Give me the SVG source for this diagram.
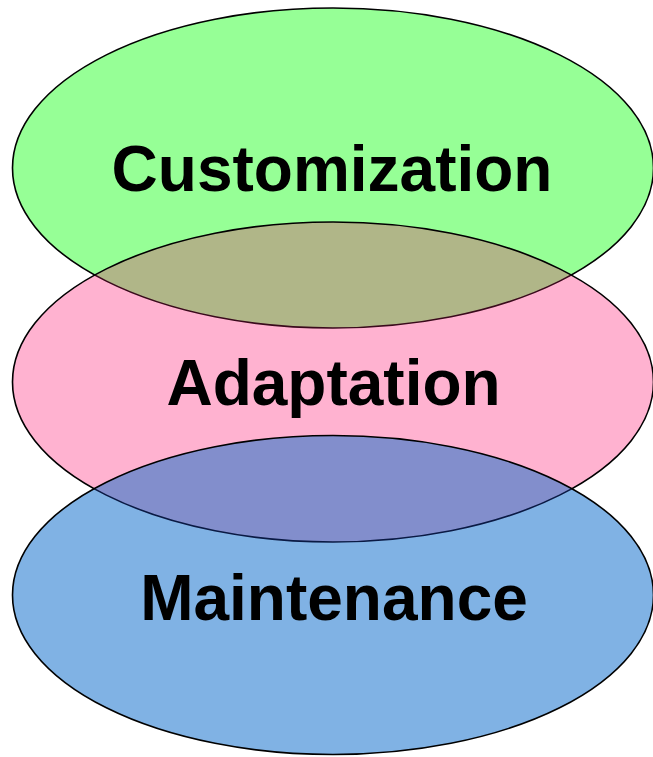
<svg xmlns="http://www.w3.org/2000/svg" xmlns:xlink="http://www.w3.org/1999/xlink" width="653" height="757" viewBox="0 0 653 757">
<style>
.lbl{font-family:"Liberation Sans",Arial,sans-serif;font-weight:bold;font-size:64px;fill:#000;text-anchor:middle}
.edge{fill:none;stroke:#000;stroke-width:1.6}
</style>
<defs>
<ellipse id="eTop" cx="333" cy="168" rx="320.5" ry="160"/>
<ellipse id="eMid" cx="333" cy="382" rx="320.5" ry="160"/>
<ellipse id="eBot" cx="333" cy="595" rx="320.5" ry="159.5"/>
<clipPath id="cTop"><use xlink:href="#eTop"/></clipPath>
<clipPath id="cMid"><use xlink:href="#eMid"/></clipPath>
<clipPath id="cBot"><use xlink:href="#eBot"/></clipPath>
</defs>
<rect width="653" height="757" fill="#fff"/>
<g id="customization">
<use xlink:href="#eTop" fill="#96FF96"/>
<use xlink:href="#eTop" class="edge"/>
<text class="lbl" x="332" y="191">Customization</text>
</g>
<g id="adaptation">
<use xlink:href="#eMid" fill="#FFB2D0"/>
<use xlink:href="#eMid" fill="#B0B688" clip-path="url(#cTop)"/>
<use xlink:href="#eTop" class="edge" style="stroke:#3a0a1c" clip-path="url(#cMid)"/>
<use xlink:href="#eMid" class="edge"/>
<text class="lbl" x="333.5" y="405">Adaptation</text>
</g>
<g id="maintenance">
<use xlink:href="#eBot" fill="#80B2E4"/>
<use xlink:href="#eBot" fill="#828ECC" clip-path="url(#cMid)"/>
<use xlink:href="#eMid" class="edge" style="stroke:#0a1a44" clip-path="url(#cBot)"/>
<use xlink:href="#eBot" class="edge"/>
<text class="lbl" x="334" y="620">Maintenance</text>
</g>
<g id="connectors"/>
</svg>
